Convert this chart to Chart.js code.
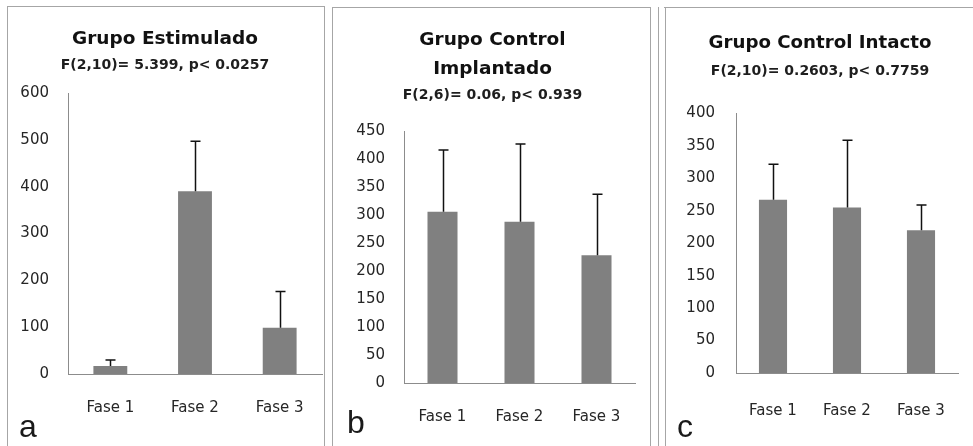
<!DOCTYPE html>
<html>
<head>
<meta charset="utf-8">
<script src="https://cdn.jsdelivr.net/npm/chart.js@4.4.1/dist/chart.umd.min.js"></script>
<style>
  html, body { margin: 0; padding: 0; background: #ffffff; }
  body { width: 973px; height: 446px; position: relative; overflow: hidden; }
  .frame { position: absolute; border-color: #a6a6a6; border-style: solid; border-width: 0; }
  canvas { position: absolute; }
  .letter { position: absolute; font-family: "Liberation Sans", Arial, sans-serif; font-size: 32px; line-height: 32px; color: #1a1a1a; }
</style>
</head>
<body>
<div class="frame" style="left:7px;top:6px;width:316px;height:460px;border-width:1px 1px 0 1px;"></div>
<div class="frame" style="left:332px;top:7px;width:317px;height:460px;border-width:1px 1px 0 1px;"></div>
<div class="frame" style="left:658px;top:7px;width:6px;height:460px;border-width:0 1px 0 1px;"></div>
<div class="frame" style="left:664px;top:7px;width:320px;height:460px;border-width:1px 0 0 0;"></div>

<canvas id="chartA" width="316" height="438" style="left:8px;top:8px;"></canvas>
<canvas id="chartB" width="300" height="438" style="left:350px;top:8px;"></canvas>
<canvas id="chartC" width="291" height="438" style="left:682px;top:8px;"></canvas>

<div class="letter" style="left:19px;top:410px;">a</div>
<div class="letter" style="left:347px;top:406px;">b</div>
<div class="letter" style="left:677px;top:410px;">c</div>

<script>
// ---- data ----
const categories = ['Fase 1', 'Fase 2', 'Fase 3'];

const titleA = ['Grupo Estimulado'];
const subtitleA = 'F(2,10)= 5.399, p< 0.0257';
const meansA = [17, 390, 99];
const errorsA = [13, 107, 77];
const yMaxA = 600;
const yStepA = 100;

const titleB = ['Grupo Control', 'Implantado'];
const subtitleB = 'F(2,6)= 0.06, p< 0.939';
const meansB = [306, 288, 228];
const errorsB = [110, 139, 109];
const yMaxB = 450;
const yStepB = 50;

const titleC = ['Grupo Control Intacto'];
const subtitleC = 'F(2,10)= 0.2603, p< 0.7759';
const meansC = [267, 255, 220];
const errorsC = [55, 104, 39];
const yMaxC = 400;
const yStepC = 50;

// ---- error bar plugin (uses the chart's own y scale) ----
const errorBarPlugin = {
  id: 'errorBars',
  afterDatasetsDraw(chart, args, opts) {
    const meta = chart.getDatasetMeta(0);
    const ys = chart.scales.y;
    const vals = chart.data.datasets[0].data;
    const ctx = chart.ctx;
    ctx.save();
    ctx.strokeStyle = opts.color;
    ctx.lineWidth = opts.width;
    meta.data.forEach((bar, i) => {
      const top = ys.getPixelForValue(vals[i] + opts.errors[i]);
      const x = Math.round(bar.x) + 0.5;
      ctx.beginPath();
      ctx.moveTo(x, bar.y);
      ctx.lineTo(x, top);
      ctx.moveTo(x - opts.cap / 2, top);
      ctx.lineTo(x + opts.cap / 2, top);
      ctx.stroke();
    });
    ctx.restore();
  }
};
Chart.register(errorBarPlugin);

const FONT = 'DejaVu Sans';

function makeChart(id, cfg) {
  return new Chart(document.getElementById(id), {
    type: 'bar',
    data: {
      labels: categories,
      datasets: [{
        data: cfg.means,
        backgroundColor: '#808080',
        borderWidth: 0,
        barPercentage: cfg.barPct,
        categoryPercentage: 1
      }]
    },
    options: {
      responsive: false,
      animation: false,
      layout: { padding: { left: 0, right: cfg.padRight, top: 0, bottom: 0 } },
      plugins: {
        legend: { display: false },
        tooltip: { enabled: false },
        title: {
          display: true,
          text: cfg.title,
          color: '#111111',
          font: { family: FONT, weight: 'bold', size: cfg.titleSize, lineHeight: cfg.titleLH },
          padding: { top: cfg.titlePadTop, bottom: 0 }
        },
        subtitle: {
          display: true,
          text: cfg.subtitle,
          color: '#1e1e1e',
          font: { family: FONT, weight: 'bold', size: cfg.subSize, lineHeight: 1.2 },
          padding: { top: cfg.subPadTop, bottom: cfg.subPadBottom }
        },
        errorBars: { errors: cfg.errors, color: '#111111', width: 1.5, cap: 10 }
      },
      scales: {
        x: {
          grid: { display: true, drawOnChartArea: false, drawTicks: true, tickLength: cfg.xPad - 3, color: 'rgba(0,0,0,0)' },
          border: { display: true, color: '#8c8c8c', width: 1 },
          ticks: { padding: 3, color: '#262626', font: { family: FONT, size: 15 } },
          afterFit: s => { s.height = cfg.xHeight; }
        },
        y: {
          min: 0,
          max: cfg.yMax,
          grid: { display: false, drawTicks: false },
          border: { display: true, color: '#8c8c8c', width: 1 },
          ticks: { stepSize: cfg.yStep, padding: cfg.yPad, color: '#262626', font: { family: FONT, size: 15 } },
          afterFit: s => { s.width = cfg.yWidth; }
        }
      }
    }
  });
}

makeChart('chartA', {
  means: meansA, errors: errorsA, yMax: yMaxA, yStep: yStepA,
  title: titleA, subtitle: subtitleA,
  titleSize: 18.5, titleLH: 1.2, titlePadTop: 19.9, subSize: 14, subPadTop: 6.7, subPadBottom: 19.4,
  padRight: 2, yWidth: 60, yPad: 19, xHeight: 72, xPad: 25, barPct: 0.40
});
makeChart('chartB', {
  means: meansB, errors: errorsB, yMax: yMaxB, yStep: yStepB,
  title: titleB, subtitle: subtitleB,
  titleSize: 18.5, titleLH: 1.568, titlePadTop: 17.5, subSize: 14, subPadTop: 3.6, subPadBottom: 27.1,
  padRight: 15, yWidth: 54, yPad: 19, xHeight: 63, xPad: 25, barPct: 0.39
});
makeChart('chartC', {
  means: meansC, errors: errorsC, yMax: yMaxC, yStep: yStepC,
  title: titleC, subtitle: subtitleC,
  titleSize: 18.2, titleLH: 1.2, titlePadTop: 24.1, subSize: 14, subPadTop: 8.7, subPadBottom: 34.1,
  padRight: 15, yWidth: 54, yPad: 21, xHeight: 73, xPad: 29, barPct: 0.38
});
</script>
</body>
</html>
